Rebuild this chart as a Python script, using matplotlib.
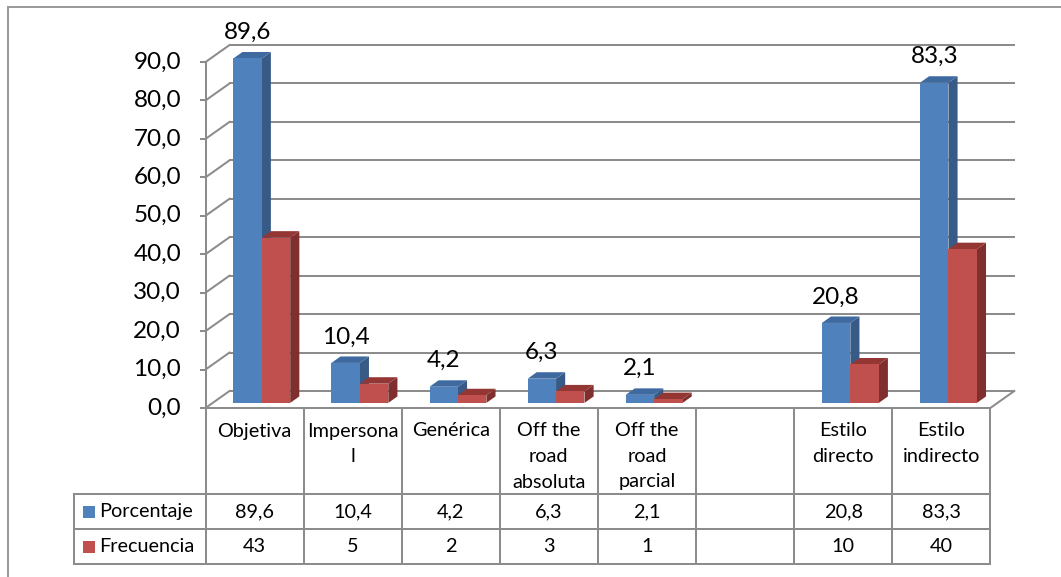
import numpy as np
import matplotlib
matplotlib.use('Agg')
import matplotlib.pyplot as plt
from matplotlib.patches import Polygon, Rectangle

plt.rcParams['font.family'] = ['Lato', 'DejaVu Sans']

# Data
categories = ['Objetiva', 'Impersona\nl', 'Genérica', 'Off the\nroad\nabsoluta',
              'Off the\nroad\nparcial', '', 'Estilo\ndirecto', 'Estilo\nindirecto']
porcentaje = [89.6, 10.4, 4.2, 6.3, 2.1, None, 20.8, 83.3]
frecuencia = [43, 5, 2, 3, 1, None, 10, 40]
series_names = ['Porcentaje', 'Frecuencia']
y_ticks = [0, 10, 20, 30, 40, 50, 60, 70, 80, 90]

# Colours (front, side, top)
blue = ('#4F81BD', '#375A87', '#3F6AA0')
red = ('#C0504D', '#7F2F2D', '#943634')
grid_col = '#8C8C8C'

# Layout in pixels
FIG_W, FIG_H = 1061, 577
X0, Y0 = 205.5, 408      # front-left corner of the floor
CAT_W = 98.1             # pixels per category
UNIT = 3.844             # pixels per value unit
DX, DY = 24, 17          # depth of the floor (back wall offset)
BAR_F, BAR_B = 0.30, 0.68  # bar depth position as fraction of floor depth
BAR_W = 0.29             # bar width in category units
FS_BIG, FS_TAB = 17.5, 14.3


def fmt(v):
    return f'{v:.1f}'.replace('.', ',')


def px2x(p):
    return (p - X0) / CAT_W


def px2y(p):
    return (Y0 - p) / UNIT


def draw_bar(ax, x, v, width, cols):
    # x, v are front-plane coordinates; bar sits between BAR_F and BAR_B depth
    fx, fy = BAR_F * DX / CAT_W, BAR_F * DY / UNIT
    bx, by = (BAR_B - BAR_F) * DX / CAT_W, (BAR_B - BAR_F) * DY / UNIT
    x0, y0 = x + fx, fy
    x1, y1 = x0 + width, fy + v
    front = Rectangle((x0, y0), width, v, facecolor=cols[0], edgecolor='none', zorder=3)
    side = Polygon([(x1, y0), (x1 + bx, y0 + by), (x1 + bx, y1 + by), (x1, y1)],
                   closed=True, facecolor=cols[1], edgecolor='none', zorder=3)
    top = Polygon([(x0, y1), (x1, y1), (x1 + bx, y1 + by), (x0 + bx, y1 + by)],
                  closed=True, facecolor=cols[2], edgecolor='none', zorder=3)
    ax.add_patch(side)
    ax.add_patch(top)
    ax.add_patch(front)


def main():
    fig = plt.figure(figsize=(FIG_W / 100, FIG_H / 100), dpi=100)
    ax = fig.add_axes([0, 0, 1, 1])
    ax.set_xlim(px2x(0), px2x(FIG_W))
    ax.set_ylim(px2y(FIG_H), px2y(0))
    ax.axis('off')

    n = len(categories)
    ddx, ddy = DX / CAT_W, DY / UNIT
    lw = 1.45

    # outer chart border
    ax.plot([px2x(8), px2x(8)], [px2y(FIG_H), px2y(7)], color='#9A9A9A', lw=lw)
    ax.plot([px2x(8), px2x(FIG_W)], [px2y(7), px2y(7)], color='#9A9A9A', lw=lw)

    # back wall gridlines with the side wall diagonals
    for v in y_ticks:
        ax.plot([ddx, n + ddx], [v + ddy, v + ddy], color=grid_col, lw=lw, zorder=1)
        ax.plot([0, ddx], [v, v + ddy], color=grid_col, lw=lw, zorder=1)
        ax.plot([px2x(X0 - 5), 0], [v, v], color=grid_col, lw=lw, zorder=1)
        ax.text(px2x(181), v, fmt(v), ha='right', va='center', fontsize=FS_BIG)

    # axis and floor
    ax.plot([0, 0], [0, y_ticks[-1]], color=grid_col, lw=lw, zorder=1)
    ax.plot([0, n], [0, 0], color=grid_col, lw=lw, zorder=1)
    ax.plot([n, n + ddx], [0, ddy], color=grid_col, lw=lw, zorder=1)

    # bars
    for i in range(n):
        p, f = porcentaje[i], frecuencia[i]
        if p is None:
            continue
        left = i + 0.5 - BAR_W
        draw_bar(ax, left, p, BAR_W, blue)
        draw_bar(ax, left + BAR_W, f, BAR_W, red)
        ax.text(left + BAR_W / 2 + BAR_F * ddx, p + BAR_F * ddy + 26 / UNIT, fmt(p),
                ha='center', va='center', fontsize=FS_BIG)

    # data table
    row1, row2, row3 = px2y(494), px2y(529), px2y(564)
    tleft = px2x(74)
    for y in (row1, row2, row3):
        ax.plot([tleft, n], [y, y], color=grid_col, lw=lw)
    ax.plot([tleft, tleft], [row1, row3], color=grid_col, lw=lw)
    for i in range(n + 1):
        ax.plot([i, i], [0, row3], color=grid_col, lw=lw)

    for i, cat in enumerate(categories):
        for j, line in enumerate(cat.split('\n')):
            ax.text(i + 0.5, px2y(431 + j * 25.5), line, ha='center', va='center',
                    fontsize=FS_TAB)
        if porcentaje[i] is not None:
            ax.text(i + 0.5, (row1 + row2) / 2, fmt(porcentaje[i]), ha='center',
                    va='center', fontsize=FS_TAB)
            ax.text(i + 0.5, (row2 + row3) / 2, str(frecuencia[i]), ha='center',
                    va='center', fontsize=FS_TAB)

    # legend keys in the table
    sq_w, sq_h = 12 / CAT_W, 12 / UNIT
    for name, cols, (ya, yb) in zip(series_names, (blue, red), ((row1, row2), (row2, row3))):
        yc = (ya + yb) / 2
        ax.add_patch(Rectangle((px2x(83), yc - sq_h / 2), sq_w, sq_h,
                               facecolor=cols[0], edgecolor='none'))
        ax.text(px2x(99), yc, name, ha='left', va='center', fontsize=FS_TAB)

    fig.savefig('out.png', dpi=100)


if __name__ == "__main__":
    main()
